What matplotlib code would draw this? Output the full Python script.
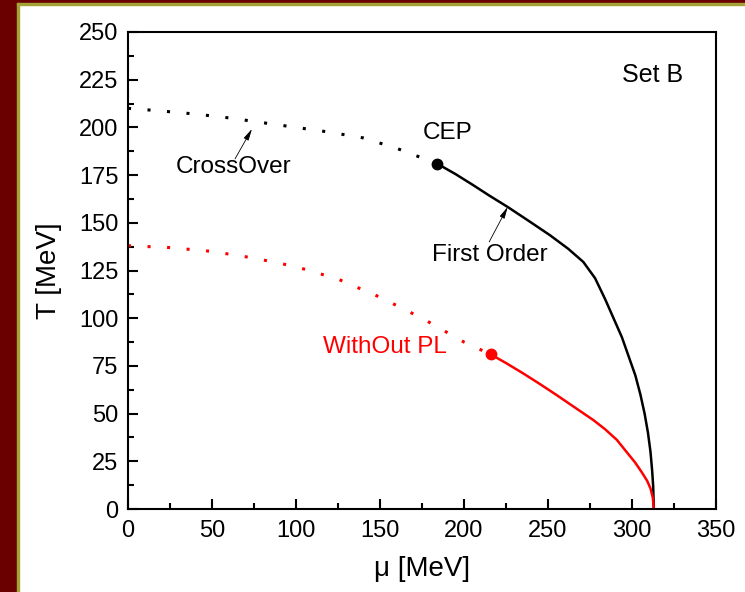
import matplotlib
matplotlib.use("Agg")
import matplotlib.pyplot as plt
from matplotlib.patches import Rectangle
from matplotlib.ticker import MultipleLocator

plt.rcParams['font.family'] = ['Liberation Sans', 'DejaVu Sans']

# crossover (dotted) and first order (solid) line, with PL
mu_cross = [0, 20, 40, 60, 80, 100, 120, 140, 160, 184]
T_cross = [210, 208.6, 207, 205, 202.5, 200, 197.5, 194.5, 189, 181]
mu_first = [184, 195, 205, 215, 226, 238, 251, 262, 271, 278, 284, 289, 294, 298,
            302, 305, 307.5, 309.5, 311, 312, 312.6, 313]
T_first = [181, 175.5, 170, 164.3, 158.3, 151.3, 143.6, 136.4, 129.5, 121, 110, 100,
           90, 80, 70, 60, 50, 40, 30, 20, 12, 0]

# without PL
mu_cross_noPL = [0, 25, 50, 75, 100, 125, 150, 175, 200, 216]
T_cross_noPL = [138, 137, 135, 131.5, 127, 120.5, 111, 100, 87.5, 81]
mu_first_noPL = [216, 225, 235, 245, 255, 266, 277, 284, 291, 297.6, 302, 306, 309,
                 311, 312.4, 313]
T_first_noPL = [81, 76.5, 71.2, 65.6, 59.8, 53.2, 46.6, 41.8, 36.2, 29, 24.2, 19,
                14.8, 10.8, 5.9, 0]

cep = (184, 181)
cep_noPL = (216, 81)

W, H = 745, 592
fig = plt.figure(figsize=(W / 100, H / 100), dpi=100)

# slide border
dark = '#6b0000'
olive = '#a4a436'
fig.patches.append(Rectangle((0, 0), 17 / W, 1, transform=fig.transFigure, color=dark, zorder=0))
fig.patches.append(Rectangle((0, 1 - 3 / H), 1, 3 / H, transform=fig.transFigure, color=dark, zorder=0))
fig.patches.append(Rectangle((17 / W, 0), 2 / W, 1 - 3 / H, transform=fig.transFigure, color=olive, zorder=0))
fig.patches.append(Rectangle((17 / W, 1 - 5 / H), 1, 2 / H, transform=fig.transFigure, color=olive, zorder=0))

ax = fig.add_axes([128 / W, 1 - 509 / H, 588 / W, 477 / H])

dots = (0, (1, 5.4))
ax.plot(mu_cross, T_cross, color='black', lw=2.2, linestyle=dots, dash_capstyle='butt')
ax.plot(mu_first, T_first, color='black', lw=1.8)
ax.plot(mu_cross_noPL, T_cross_noPL, color='red', lw=2.2, linestyle=dots, dash_capstyle='butt')
ax.plot(mu_first_noPL, T_first_noPL, color='red', lw=1.8)
ax.plot(*cep, 'o', color='black', ms=7.5, zorder=5)
ax.plot(*cep_noPL, 'o', color='red', ms=7.5, zorder=5)

arrow = dict(arrowstyle='-|>,head_length=0.7,head_width=0.16', color='black', lw=0.6,
             shrinkA=0, shrinkB=0)
ax.annotate('', xy=(73.8, 199.2), xytext=(63.7, 183.5), arrowprops=arrow)
ax.annotate('', xy=(226, 158.3), xytext=(215, 140), arrowprops=arrow)
ax.text(63, 179.5, 'CrossOver', fontsize=17.5, ha='center', va='center')
ax.text(215.5, 133, 'First Order', fontsize=17.5, ha='center', va='center')
ax.text(190.5, 197, 'CEP', fontsize=17.5, ha='center', va='center')
ax.text(153, 85, 'WithOut PL', fontsize=17.5, color='red', ha='center', va='center')
ax.text(312, 227.5, 'Set B', fontsize=18, ha='center', va='center')

ax.set_xlim(0, 350)
ax.set_ylim(0, 250)
ax.xaxis.set_major_locator(MultipleLocator(50))
ax.xaxis.set_minor_locator(MultipleLocator(25))
ax.yaxis.set_major_locator(MultipleLocator(25))
ax.yaxis.set_minor_locator(MultipleLocator(12.5))
ax.tick_params(which='both', direction='in', top=False, right=False, width=1.5, labelsize=17)
ax.tick_params(axis='x', pad=8)
ax.tick_params(axis='y', pad=7)
ax.tick_params(which='major', length=7)
ax.tick_params(which='minor', length=4)
for s in ax.spines.values():
    s.set_linewidth(1.5)

ax.set_xlabel('μ [MeV]', fontsize=20, labelpad=10)
ax.set_ylabel('T [MeV]', fontsize=20, labelpad=12)

fig.savefig('out.png', dpi=100)
